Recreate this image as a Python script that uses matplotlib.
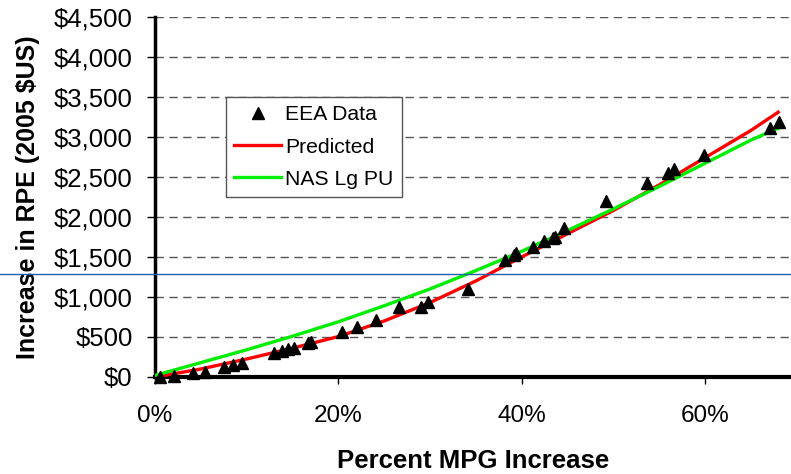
import numpy as np
import matplotlib.pyplot as plt
from matplotlib.lines import Line2D

plt.rcParams['font.family'] = ['Liberation Sans', 'DejaVu Sans']

# EEA data points (fraction MPG increase, RPE $)
eea_x = [0.005, 0.021, 0.041, 0.055, 0.075, 0.085, 0.095, 0.130, 0.139, 0.145,
         0.152, 0.167, 0.170, 0.204, 0.220, 0.241, 0.266, 0.290, 0.298, 0.341,
         0.382, 0.392, 0.394, 0.413, 0.425, 0.434, 0.437, 0.446, 0.492, 0.537,
         0.560, 0.566, 0.599, 0.671, 0.681]
eea_y = [0, 15, 55, 65, 125, 150, 175, 300, 320, 345,
         365, 425, 440, 560, 630, 710, 875, 880, 940, 1100,
         1460, 1530, 1550, 1620, 1700, 1740, 1750, 1860, 2200, 2430,
         2550, 2600, 2780, 3110, 3190]

# predicted curve
pred_x = [0.0, 0.05, 0.10, 0.15, 0.20, 0.25, 0.30, 0.35, 0.40, 0.45, 0.50,
          0.55, 0.60, 0.65, 0.68]
pred_y = [0, 100, 225, 360, 505, 700, 930, 1200, 1500, 1790, 2080,
          2400, 2740, 3080, 3310]

# NAS large pickup curve
nas_x = [0.0, 0.05, 0.10, 0.15, 0.20, 0.25, 0.30, 0.35, 0.40, 0.45, 0.50,
         0.55, 0.60, 0.65, 0.68]
nas_y = [20, 180, 340, 510, 690, 890, 1100, 1330, 1570, 1830, 2100,
         2380, 2670, 2960, 3110]

fig = plt.figure(figsize=(7.91, 4.74), dpi=100)
ax = fig.add_axes([155 / 791, 97 / 474, 1 - 155 / 791, 360 / 474])

ax.plot(pred_x, pred_y, color='#ff0000', lw=2.4, label='Predicted', zorder=3)
ax.plot(nas_x, nas_y, color='#00ee00', lw=2.4, label='NAS Lg PU', zorder=3)
ax.plot(eea_x, eea_y, '^', color='black', ms=9, ls='none', label='EEA Data',
        zorder=4, clip_on=False)

ax.set_xlim(0, 0.694)
ax.set_ylim(0, 4500)
ax.set_yticks(np.arange(0, 4501, 500))
ax.set_yticklabels(['${:,}'.format(v) for v in range(0, 4501, 500)])
ax.set_xticks([0, 0.2, 0.4, 0.6])
ax.set_xticklabels(['0%', '20%', '40%', '60%'])

for v in range(500, 4501, 500):
    ax.axhline(v, color='#555555', lw=1, dashes=(6, 4), zorder=1)

for s in ['top', 'right']:
    ax.spines[s].set_visible(False)
ax.spines['left'].set_linewidth(2.5)
ax.spines['bottom'].set_linewidth(3)
ax.tick_params(axis='y', direction='out', length=6, width=1,
               labelsize=18.5, pad=10)
ax.tick_params(axis='x', direction='out', length=5, width=1,
               labelsize=17.5, pad=15)

ax.set_xlabel('Percent MPG Increase', fontsize=18.5, fontweight='bold',
              labelpad=16)
ax.set_ylabel('Increase in RPE (2005 $US)', fontsize=18, fontweight='bold',
              labelpad=10)

handles = [Line2D([], [], marker='^', color='black', ls='none', ms=8),
           Line2D([], [], color='#ff0000', lw=2.4),
           Line2D([], [], color='#00ee00', lw=2.4)]
leg = ax.legend(handles, ['EEA Data', 'Predicted', 'NAS Lg PU'],
                loc='upper left', bbox_to_anchor=(71 / 636, 280 / 360),
                borderaxespad=0, fontsize=15.2, frameon=True, fancybox=False,
                edgecolor='#555555', framealpha=1, borderpad=0.4,
                handlelength=2.2, handletextpad=0.2, labelspacing=0.62)
leg.get_frame().set_linewidth(1)

# stray horizontal rule across the figure
fig.add_artist(Line2D([0, 1], [200 / 474, 200 / 474], color='#1f5fb4',
                      lw=1, transform=fig.transFigure))

fig.savefig('out.png', dpi=100)
